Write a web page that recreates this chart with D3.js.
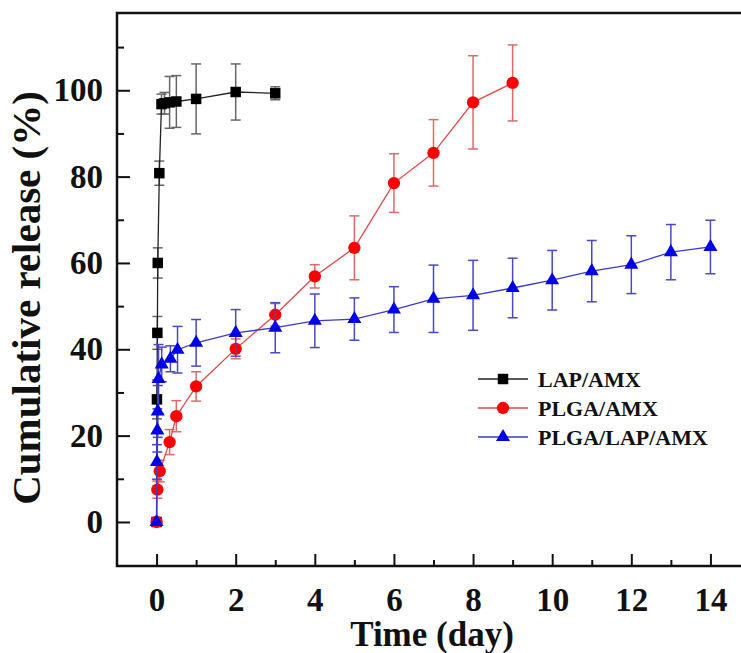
<!DOCTYPE html>
<html lang="en">
  <head>
    <meta charset="UTF-8" />
    <title>Cumulative release</title>
    <style>
      html, body {
        margin: 0;
        background: #fff;
      }
      svg text {
        font-family: "Liberation Serif", "Times New Roman", serif;
        font-weight: bold;
      }
    </style>
    <script src="https://cdn.jsdelivr.net/npm/d3@7"></script>
  </head>
  <body>
    <svg id="chart" width="741" height="653"></svg>
    <script>
      // LAP/AMX
      const lapTime = [0, 0.01, 0.02, 0.03, 0.07, 0.125, 0.2, 0.33, 0.5, 1, 2, 3];
      const lapRelease = [0, 28.4, 43.8, 60.0, 80.8, 96.8, 97.0, 97.2, 97.4, 98.0, 99.6, 99.3];
      const lapErr = [0, 4.5, 3.8, 3.5, 2.8, 2.3, 2.5, 6.0, 6.0, 8.1, 6.5, 1.5];

      // PLGA/AMX
      const plgaTime = [0, 0.02, 0.08, 0.33, 0.5, 1, 2, 3, 4, 5, 6, 7, 8, 9];
      const plgaRelease = [0, 7.5, 11.8, 18.5, 24.5, 31.4, 40.1, 48.0, 56.9, 63.5, 78.5, 85.5, 97.2, 101.7];
      const plgaErr = [0, 2, 2.5, 2.9, 3.6, 3.4, 2.3, 2.6, 2.7, 7.4, 6.8, 7.7, 10.8, 8.8];

      // PLGA/LAP/AMX
      const triTime = [0, 0.01, 0.02, 0.03, 0.05, 0.13, 0.35, 0.53, 1, 2, 3, 4, 5, 6, 7, 8, 9, 10, 11, 12, 13, 14];
      const triRelease = [0, 13.9, 21.2, 25.6, 33.1, 36.5, 37.8, 39.9, 41.5, 43.8, 45.0, 46.6, 47.0, 49.2, 51.7, 52.5, 54.2, 56.0, 58.1, 59.6, 62.5, 63.7];
      const triErr = [0, 4, 5, 6, 8, 4, 3, 5.4, 5.4, 5.4, 5.8, 6.2, 4.9, 5.3, 7.8, 8.1, 6.9, 6.9, 7.1, 6.7, 6.4, 6.2];

      const seriesNames = ["LAP/AMX", "PLGA/AMX", "PLGA/LAP/AMX"];
      const xTicks = [0, 2, 4, 6, 8, 10, 12, 14];
      const xMinor = [1, 3, 5, 7, 9, 11, 13];
      const yTicks = [0, 20, 40, 60, 80, 100];
      const yMinor = [10, 30, 50, 70, 90, 110];

      const series = [
        { name: seriesNames[0], t: lapTime, v: lapRelease, e: lapErr,
          line: "#222", bar: "#666", fill: "#000", shape: "square" },
        { name: seriesNames[1], t: plgaTime, v: plgaRelease, e: plgaErr,
          line: "#e04848", bar: "#e06868", fill: "#ff0000", shape: "circle" },
        { name: seriesNames[2], t: triTime, v: triRelease, e: triErr,
          line: "#3a3ad0", bar: "#4848c8", fill: "#0000e6", shape: "triangle" },
      ];

      const svg = d3.select("#chart");
      const plotLeft = 117, plotTop = 13, plotBottom = 566, plotRight = 750;

      const x = d3.scaleLinear().domain([-1, 15]).range([plotLeft, plotRight]);
      const y = d3.scaleLinear().domain([-10.2, 117.9]).range([plotBottom, plotTop]);

      // axes, ticks pointing inward
      svg.append("g")
        .attr("transform", `translate(0,${plotBottom})`)
        .call(d3.axisBottom(x).tickValues(xTicks).tickSize(-12).tickPadding(22).tickSizeOuter(0))
        .call((g) => g.select(".domain").remove())
        .call((g) => g.selectAll("line").attr("stroke", "#111").attr("stroke-width", 2))
        .call((g) => g.selectAll("text").attr("font-size", 33).attr("fill", "#111"));

      svg.append("g")
        .attr("transform", `translate(0,${plotBottom})`)
        .call(d3.axisBottom(x).tickValues(xMinor).tickSize(-6).tickFormat(""))
        .call((g) => g.select(".domain").remove())
        .call((g) => g.selectAll("line").attr("stroke", "#111").attr("stroke-width", 2));

      svg.append("g")
        .attr("transform", `translate(${plotLeft},0)`)
        .call(d3.axisLeft(y).tickValues(yTicks).tickSize(-13).tickPadding(14).tickSizeOuter(0))
        .call((g) => g.select(".domain").remove())
        .call((g) => g.selectAll("line").attr("stroke", "#111").attr("stroke-width", 2))
        .call((g) => g.selectAll("text").attr("font-size", 33).attr("fill", "#111"));

      svg.append("g")
        .attr("transform", `translate(${plotLeft},0)`)
        .call(d3.axisLeft(y).tickValues(yMinor).tickSize(-7).tickFormat(""))
        .call((g) => g.select(".domain").remove())
        .call((g) => g.selectAll("line").attr("stroke", "#111").attr("stroke-width", 2));

      // frame
      svg.append("path")
        .attr("d", `M${plotRight},${plotBottom}H${plotLeft}V${plotTop}H${plotRight}`)
        .attr("fill", "none")
        .attr("stroke", "#111")
        .attr("stroke-width", 2.5);

      // axis titles
      svg.append("text")
        .attr("x", 432)
        .attr("y", 646)
        .attr("text-anchor", "middle")
        .attr("font-size", 35)
        .attr("fill", "#111")
        .text("Time (day)");

      svg.append("text")
        .attr("transform", "translate(40,298) rotate(-90)")
        .attr("text-anchor", "middle")
        .attr("font-size", 41)
        .attr("fill", "#111")
        .text("Cumulative release (%)");

      const symbols = {
        square: d3.symbol(d3.symbolSquare, 110),
        circle: d3.symbol(d3.symbolCircle, 120),
        triangle: d3.symbol(d3.symbolTriangle, 85),
      };

      const line = d3.line().x((d) => x(d[0])).y((d) => y(d[1]));

      // draw in order: black, red, blue (blue on top)
      series.forEach((s) => {
        const pts = s.t.map((t, i) => [t, s.v[i], s.e[i]]);
        const g = svg.append("g");

        const bars = g.selectAll(".err").data(pts.filter((d) => d[2] > 0)).join("g");
        bars.append("line")
          .attr("x1", (d) => x(d[0])).attr("x2", (d) => x(d[0]))
          .attr("y1", (d) => y(d[1] - d[2])).attr("y2", (d) => y(d[1] + d[2]))
          .attr("stroke", s.bar).attr("stroke-width", 1.5);
        [-1, 1].forEach((k) => {
          bars.append("line")
            .attr("x1", (d) => x(d[0]) - 5).attr("x2", (d) => x(d[0]) + 5)
            .attr("y1", (d) => y(d[1] + k * d[2])).attr("y2", (d) => y(d[1] + k * d[2]))
            .attr("stroke", s.bar).attr("stroke-width", 1.5);
        });

        g.append("path")
          .datum(pts)
          .attr("d", line)
          .attr("fill", "none")
          .attr("stroke", s.line)
          .attr("stroke-width", 1.3);

        g.selectAll(".pt").data(pts).join("path")
          .attr("transform", (d) => `translate(${x(d[0])},${y(d[1])})`)
          .attr("d", symbols[s.shape]())
          .attr("fill", s.fill);
      });

      // legend
      const legendY = [379, 408, 437];
      const lg = svg.append("g");
      series.forEach((s, i) => {
        lg.append("line")
          .attr("x1", 478).attr("x2", 528)
          .attr("y1", legendY[i]).attr("y2", legendY[i])
          .attr("stroke", s.line).attr("stroke-width", 1.3);
        lg.append("path")
          .attr("transform", `translate(503,${legendY[i]})`)
          .attr("d", symbols[s.shape]())
          .attr("fill", s.fill);
        lg.append("text")
          .attr("x", 538)
          .attr("y", legendY[i])
          .attr("dy", "0.35em")
          .attr("font-size", 22)
          .attr("fill", "#111")
          .text(s.name);
      });
    </script>
  </body>
</html>
